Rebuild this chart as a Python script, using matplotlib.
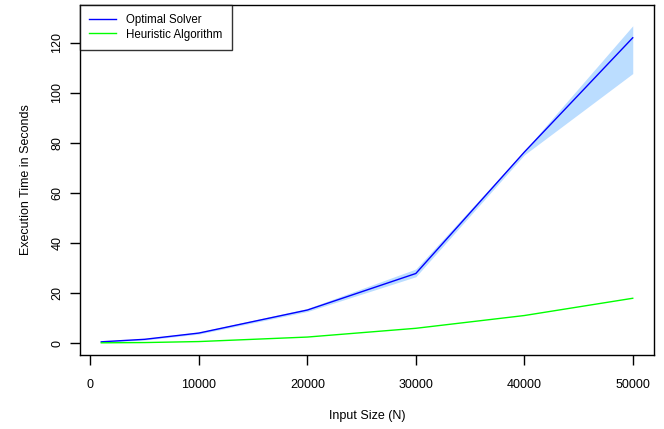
import matplotlib
matplotlib.use("Agg")
import matplotlib.pyplot as plt

plt.rcParams['font.family'] = ['Liberation Sans', 'DejaVu Sans']

sizes = [1000, 5000, 10000, 20000, 30000, 40000, 50000]
optimal = [0.5, 1.5, 4.0, 13.2, 27.8, 76.3, 122.0]
optimal_lo = [0.3, 1.2, 3.6, 12.6, 26.5, 75.2, 107.7]
optimal_hi = [0.7, 1.8, 4.4, 13.8, 29.6, 76.8, 126.8]
heuristic = [0.1, 0.2, 0.6, 2.4, 5.9, 11.0, 17.9]

xticks = [0, 10000, 20000, 30000, 40000, 50000]
yticks = [0, 20, 40, 60, 80, 100, 120]

fig = plt.figure(figsize=(6.64, 4.29), dpi=100)
ax = fig.add_axes([80/664, 1-355/429, (654-80)/664, (355-5)/429])

ax.fill_between(sizes, optimal_lo, optimal_hi, color='#BBDDFF', linewidth=0)
ax.plot(sizes, optimal, color='#0000FF', lw=1.0, label='Optimal Solver')
ax.plot(sizes, heuristic, color='#00FF00', lw=1.0, label='Heuristic Algorithm')

ax.set_xlim(-960, 51960)
ax.set_ylim(-4.77, 135.1)
ax.set_xticks(xticks)
ax.set_xticklabels([str(v) for v in xticks])
ax.set_yticks(yticks)
ax.set_yticklabels([str(v) for v in yticks], rotation=90, va='center')

for s in ax.spines.values():
    s.set_linewidth(1.0)
    s.set_color('black')
ax.tick_params(axis='both', direction='out', length=7, width=1, labelsize=9)
ax.tick_params(axis='x', pad=10)
ax.tick_params(axis='y', pad=5)

ax.set_xlabel('Input Size (N)', fontsize=9, labelpad=14)
ax.set_ylabel('Execution Time in Seconds', fontsize=9, labelpad=14)

leg = ax.legend(loc='upper left', bbox_to_anchor=(0, 1), fontsize=8.3, frameon=True,
                fancybox=False, borderaxespad=0, handlelength=2.3, handletextpad=0.9,
                borderpad=0.8, labelspacing=0.2)
leg.get_frame().set_edgecolor('black')
leg.get_frame().set_linewidth(1.0)

fig.savefig('out.png', dpi=100)
